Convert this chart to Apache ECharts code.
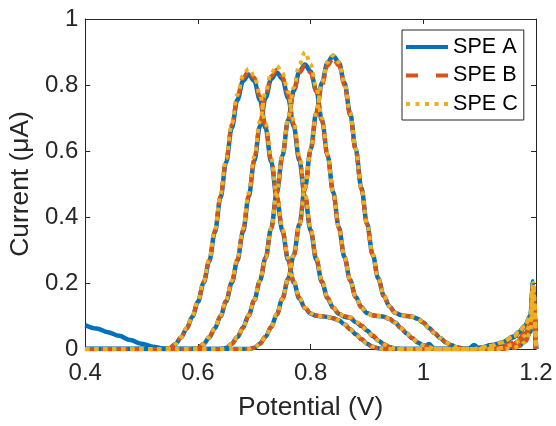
<!DOCTYPE html>
<html>
<head>
<meta charset="utf-8">
<script src="https://cdn.jsdelivr.net/npm/echarts@6/dist/echarts.min.js"></script>
<style>html,body{margin:0;padding:0;background:#fff}#c{width:556px;height:426px}</style>
</head>
<body>
<div id="c"></div>
<script>
// ---- data ----
const potential = [
  0.40,0.42,0.44,0.46,0.48,0.50,0.52,0.54,
  0.55,0.56,0.57,0.58,0.59,
  0.60,0.61,0.62,0.63,0.64,0.65,0.66,0.67,0.68,0.69,
  0.70,0.71,0.72,0.73,0.74,0.75,0.76,0.77,0.78,0.79,
  0.80,0.81,0.82,0.83,0.84,0.85,0.86,0.87,0.88,0.89,
  0.90,0.91,0.92,0.93,0.94,0.95,0.96,0.97,0.98,0.99,
  1.00,1.01,1.02,1.03,1.04,1.05,1.06,1.07,1.08,1.09,
  1.10,
  1.12,1.14,1.16,1.17,1.18,1.19,1.195,1.20
];

const speA1 = [
  0.072,0.062,0.051,0.040,0.027,0.016,0.007,0.001,
  0.003,0.015,0.035,0.062,0.098,
  0.143,0.200,0.266,0.354,0.458,0.566,0.670,0.755,0.812,0.832,
  0.812,0.755,0.670,0.567,0.458,0.357,0.270,0.202,0.153,0.124,
  0.107,0.101,0.099,0.097,0.093,0.087,0.075,0.060,0.045,0.030,
  0.016,0.007,0.002,0,0,0,0,0,0,0,
  0,0,0,0,0,0,0,0,0,0,
  0,
  0.012,0.016,0.006,0.010,0.022,0.052,0.180,0
];
const speA2 = [
  0,0,0,0,0,0,0,0,
  0,0,0,0,0,
  0.003,0.015,0.035,0.063,0.099,0.144,0.201,0.268,0.356,0.461,
  0.570,0.675,0.761,0.818,0.838,0.818,0.761,0.675,0.571,0.461,
  0.359,0.271,0.203,0.154,0.125,0.107,0.098,0.094,0.082,0.070,
  0.056,0.040,0.026,0.014,0.006,0.001,0,0,0,0,
  0,0.015,0,0,0,0,0,0,0,0.012,
  0,
  0,0.004,0.014,0.024,0.040,0.075,0.190,0
];
const speA3 = [
  0,0,0,0,0,0,0,0,
  0,0,0,0,0,
  0,0,0,0,0,0.003,0.016,0.036,0.065,0.102,
  0.148,0.207,0.276,0.366,0.474,0.586,0.694,0.783,0.841,0.862,
  0.841,0.783,0.694,0.587,0.475,0.369,0.279,0.209,0.158,0.127,
  0.109,0.102,0.100,0.098,0.091,0.080,0.064,0.048,0.033,0.020,
  0.011,0.005,0,0,0,0,0,0,0,0,
  0.004,
  0.010,0.020,0.038,0.052,0.070,0.100,0.200,0
];
const speA4 = [
  0,0,0,0,0,0,0,0,
  0,0,0,0,0,
  0,0,0,0,0,0,0,0,0,0,
  0.004,0.016,0.037,0.067,0.105,0.153,0.213,0.284,0.378,0.489,
  0.605,0.716,0.807,0.868,0.889,0.868,0.807,0.716,0.606,0.489,
  0.380,0.287,0.214,0.161,0.129,0.110,0.103,0.100,0.098,0.092,
  0.080,0.064,0.048,0.033,0.020,0.011,0.005,0.002,0,0,
  0.003,
  0.008,0.018,0.035,0.050,0.068,0.098,0.205,0
];

const speB1 = [
  0,0,0,0,0,0,0,0,
  0.003,0.015,0.035,0.063,0.099,
  0.145,0.202,0.269,0.358,0.463,0.573,0.678,0.765,0.822,0.842,
  0.822,0.765,0.678,0.574,0.464,0.361,0.273,0.204,0.155,0.125,
  0.107,0.101,0.099,0.097,0.093,0.087,0.075,0.060,0.045,0.030,
  0.016,0.007,0.002,0,0,0,0,0,0,0,
  0,0,0,0,0,0,0,0,0,0,
  0,
  0,0,0.003,0.008,0.020,0.050,0.180,0
];
const speB2 = [
  0,0,0,0,0,0,0,0,
  0,0,0,0,0,
  0.003,0.015,0.036,0.063,0.100,0.146,0.203,0.271,0.360,0.465,
  0.575,0.681,0.768,0.826,0.846,0.826,0.768,0.681,0.576,0.466,
  0.362,0.274,0.205,0.155,0.125,0.108,0.100,0.096,0.085,0.072,
  0.058,0.042,0.027,0.015,0.006,0.001,0,0,0,0,
  0,0,0,0,0,0,0,0,0,0,
  0,
  0,0.004,0.014,0.024,0.040,0.075,0.190,0
];
const speB3 = [
  0,0,0,0,0,0,0,0,
  0,0,0,0,0,
  0,0,0,0,0,0.003,0.015,0.036,0.064,0.101,
  0.148,0.206,0.275,0.365,0.472,0.583,0.691,0.779,0.837,0.858,
  0.837,0.779,0.691,0.584,0.472,0.367,0.278,0.208,0.157,0.126,
  0.108,0.102,0.100,0.098,0.091,0.080,0.064,0.048,0.033,0.020,
  0.011,0.005,0,0,0,0,0,0,0,0,
  0,
  0,0.003,0.010,0.018,0.032,0.062,0.185,0
];
const speB4 = [
  0,0,0,0,0,0,0,0,
  0,0,0,0,0,
  0,0,0,0,0,0,0,0,0,0,
  0.004,0.016,0.037,0.066,0.104,0.151,0.211,0.282,0.374,0.484,
  0.598,0.708,0.799,0.859,0.880,0.859,0.799,0.708,0.599,0.484,
  0.377,0.284,0.212,0.160,0.128,0.110,0.102,0.100,0.098,0.092,
  0.080,0.064,0.048,0.033,0.020,0.011,0.005,0,0,0,
  0,
  0.002,0.008,0.020,0.032,0.050,0.085,0.195,0
];

const speC1 = [
  0,0,0,0,0,0,0,0,
  0.003,0.015,0.036,0.064,0.100,
  0.146,0.204,0.272,0.361,0.467,0.577,0.683,0.771,0.829,0.849,
  0.829,0.771,0.683,0.578,0.467,0.364,0.275,0.206,0.156,0.126,
  0.108,0.101,0.099,0.097,0.093,0.087,0.075,0.060,0.045,0.030,
  0.016,0.007,0.002,0,0,0,0,0,0,0,
  0,0,0,0,0,0,0,0,0,0,
  0,
  0,0,0.003,0.008,0.020,0.050,0.180,0
];
const speC2 = [
  0,0,0,0,0,0,0,0,
  0,0,0,0,0,
  0.003,0.015,0.036,0.064,0.101,0.148,0.206,0.275,0.365,0.472,
  0.583,0.691,0.779,0.837,0.858,0.837,0.779,0.691,0.584,0.472,
  0.367,0.278,0.208,0.157,0.126,0.108,0.099,0.095,0.083,0.070,
  0.056,0.040,0.026,0.014,0.006,0.001,0,0,0,0,
  0,0,0,0,0,0,0,0,0,0,
  0,
  0,0.004,0.014,0.024,0.040,0.075,0.190,0
];
const speC3 = [
  0,0,0,0,0,0,0,0,
  0,0,0,0,0,
  0,0,0,0,0,0.003,0.016,0.036,0.065,0.102,
  0.149,0.208,0.277,0.368,0.476,0.590,0.700,0.792,0.862,0.900,
  0.862,0.792,0.700,0.590,0.476,0.370,0.280,0.210,0.158,0.127,
  0.109,0.102,0.100,0.098,0.091,0.080,0.064,0.048,0.033,0.020,
  0.011,0.005,0,0,0,0,0,0,0,0,
  0.004,
  0.010,0.020,0.038,0.052,0.070,0.100,0.200,0
];
const speC4 = [
  0,0,0,0,0,0,0,0,
  0,0,0,0,0,
  0,0,0,0,0,0,0,0,0,0,
  0.004,0.016,0.037,0.067,0.105,0.153,0.213,0.284,0.378,0.489,
  0.605,0.716,0.807,0.868,0.889,0.868,0.807,0.716,0.606,0.489,
  0.380,0.287,0.214,0.161,0.129,0.110,0.103,0.100,0.098,0.092,
  0.080,0.064,0.048,0.033,0.020,0.011,0.005,0.002,0,0,
  0.003,
  0.010,0.020,0.038,0.052,0.070,0.100,0.200,0
];

const seriesNames = ['SPE A', 'SPE B', 'SPE C'];
const xTicks = [0.4, 0.6, 0.8, 1, 1.2];
const yTicks = [0, 0.2, 0.4, 0.6, 0.8, 1];
const xLabel = 'Potential (V)';
const yLabel = 'Current (μA)';

// ---- build ----
const FONT = 'Liberation Sans, Arial, Helvetica, sans-serif';
const AX = '#262626';
const styles = {
  'SPE A': { color: '#0072BD', type: 'solid', width: 4.5,
             icon: 'path://M0,0H42V4H0Z' },
  'SPE B': { color: '#D95319', type: [10, 6], width: 4,
             icon: 'path://M0,0H12V4H0Z M30,0H42V4H30Z' },
  'SPE C': { color: '#EDB120', type: [4, 5], width: 4,
             icon: 'path://M0,0H4V4H0Z M9.5,0H13.5V4H9.5Z M19,0H23V4H19Z M28.5,0H32.5V4H28.5Z M38,0H42V4H38Z' }
};
const groups = [
  ['SPE A', [speA1, speA2, speA3, speA4]],
  ['SPE B', [speB1, speB2, speB3, speB4]],
  ['SPE C', [speC1, speC2, speC3, speC4]]
];
function pairs(ys) {
  if (ys.length !== potential.length) throw new Error('length mismatch ' + ys.length);
  return potential.map((x, i) => [x, ys[i]]);
}
const series = [];
groups.forEach(([name, arrs]) => {
  arrs.forEach(a => {
    series.push({
      type: 'line', name: name, data: pairs(a),
      symbol: 'none', smooth: 0.35, smoothMonotone: 'x',
      color: styles[name].color,
      lineStyle: { width: styles[name].width, type: styles[name].type, cap: 'butt' },
      emphasis: { disabled: true }
    });
  });
});

function axisCommon(extra) {
  return Object.assign({
    type: 'value',
    axisLine: { show: true, onZero: false, lineStyle: { color: AX, width: 1 } },
    axisTick: { show: true, inside: true, length: 5, lineStyle: { color: AX, width: 1 } },
    splitLine: { show: false }
  }, extra);
}

const chart = echarts.init(document.getElementById('c'), null, { renderer: 'canvas' });
chart.setOption({
  animation: false,
  backgroundColor: '#fff',
  grid: { left: 85, right: 20, top: 19, bottom: 75, containLabel: false },
  xAxis: [
    axisCommon({
      position: 'bottom', min: xTicks[0], max: xTicks[xTicks.length - 1], interval: 0.2,
      axisLabel: { fontSize: 24, color: AX, fontFamily: FONT, margin: 12 },
      name: xLabel, nameLocation: 'middle', nameGap: 46,
      nameTextStyle: { fontSize: 26.4, color: AX, fontFamily: FONT }
    }),
    axisCommon({
      position: 'top', min: xTicks[0], max: xTicks[xTicks.length - 1], interval: 0.2,
      axisLabel: { show: false }
    })
  ],
  yAxis: [
    axisCommon({
      position: 'left', min: yTicks[0], max: yTicks[yTicks.length - 1], interval: 0.2,
      axisLabel: { fontSize: 24, color: AX, fontFamily: FONT, margin: 7 },
      name: yLabel, nameLocation: 'middle', nameGap: 50,
      nameTextStyle: { fontSize: 26.4, color: AX, fontFamily: FONT }
    }),
    axisCommon({
      position: 'right', min: yTicks[0], max: yTicks[yTicks.length - 1], interval: 0.2,
      axisLabel: { show: false }
    })
  ],
  legend: {
    orient: 'vertical', left: 402, top: 30,
    padding: [5, 6, 4, 4], itemGap: 4.5, itemWidth: 42, itemHeight: 14,
    backgroundColor: '#fff', borderColor: AX, borderWidth: 1, borderRadius: 0,
    itemStyle: { borderWidth: 0 },
    textStyle: { fontSize: 21.6, lineHeight: 24, color: '#000', fontFamily: FONT },
    data: seriesNames.map(n => ({ name: n, icon: styles[n].icon, itemStyle: { color: styles[n].color, borderWidth: 0 } })),
    selectedMode: false
  },
  series: series
});
</script>
</body>
</html>
